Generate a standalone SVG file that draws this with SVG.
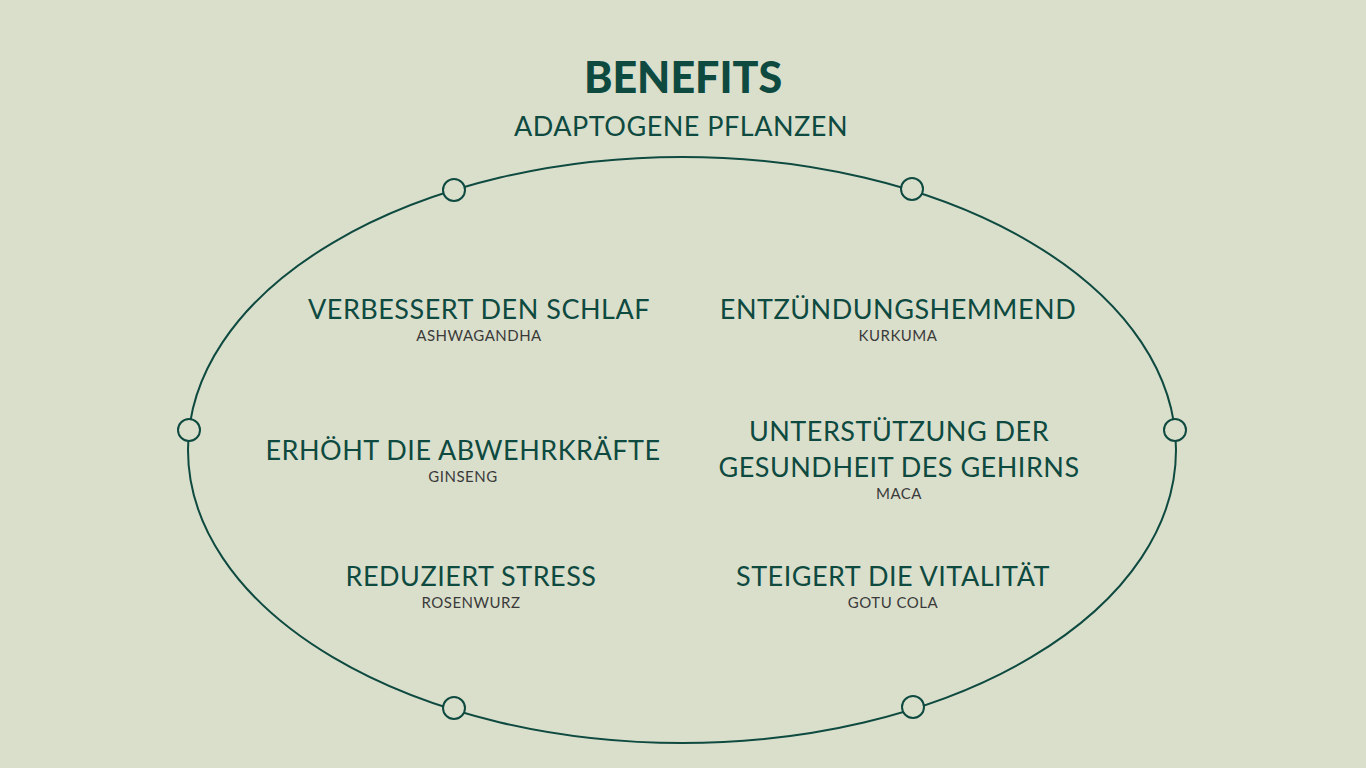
<svg xmlns="http://www.w3.org/2000/svg" width="1366" height="768" viewBox="0 0 1366 768">
<style>
.h{font-family:Lato,"Open Sans",sans-serif;font-size:27px;fill:#0e4a40;text-anchor:middle;letter-spacing:0.5px}
.s{font-family:Lato,"Open Sans",sans-serif;font-size:15px;fill:#3a3a3a;text-anchor:middle;letter-spacing:0.5px}
.d{fill:#dadfcc;stroke:#0e4a40;stroke-width:2}
</style>
<rect width="1366" height="768" fill="#dadfcc"/>
<g id="title">
<text x="683" y="93" font-family="Lato,sans-serif" font-weight="900" font-size="43" fill="#0e4a40" text-anchor="middle">BENEFITS</text>
<text x="681" y="136" class="h" font-size="32">ADAPTOGENE PFLANZEN</text>
</g>
<g id="connectors">
<ellipse cx="682" cy="450" rx="494" ry="293" fill="none" stroke="#0e4a40" stroke-width="2"/>
</g>
<g id="dots">
<circle class="d" cx="454" cy="190" r="11"/>
<circle class="d" cx="912" cy="189" r="11"/>
<circle class="d" cx="189" cy="430" r="11"/>
<circle class="d" cx="1175" cy="430" r="11"/>
<circle class="d" cx="454" cy="708" r="11"/>
<circle class="d" cx="913" cy="707" r="11"/>
</g>
<g id="n1"><text class="h" x="479" y="319">VERBESSERT DEN SCHLAF</text><text class="s" x="479" y="341">ASHWAGANDHA</text></g>
<g id="n2"><text class="h" x="898" y="319">ENTZÜNDUNGSHEMMEND</text><text class="s" x="898" y="341">KURKUMA</text></g>
<g id="n3"><text class="h" x="463" y="460">ERHÖHT DIE ABWEHRKRÄFTE</text><text class="s" x="463" y="482">GINSENG</text></g>
<g id="n4"><text class="h" x="899" y="441">UNTERSTÜTZUNG DER</text><text class="h" x="899" y="477">GESUNDHEIT DES GEHIRNS</text><text class="s" x="899" y="499">MACA</text></g>
<g id="n5"><text class="h" x="471" y="586">REDUZIERT STRESS</text><text class="s" x="471" y="608">ROSENWURZ</text></g>
<g id="n6"><text class="h" x="893" y="586">STEIGERT DIE VITALITÄT</text><text class="s" x="893" y="608">GOTU COLA</text></g>
</svg>
